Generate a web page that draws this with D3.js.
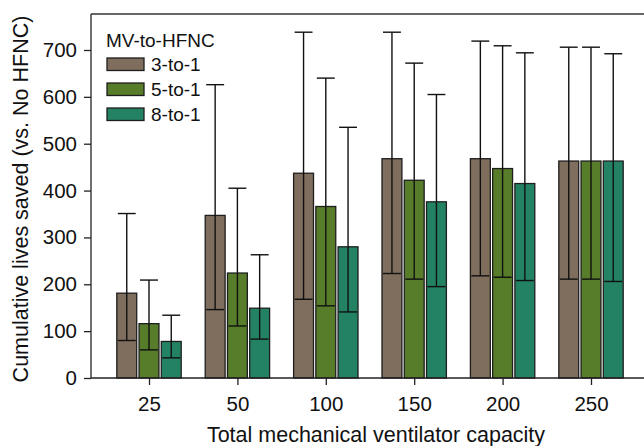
<!DOCTYPE html>
<html>
<head>
<meta charset="utf-8">
<script src="https://cdn.jsdelivr.net/npm/d3@7"></script>
<style>
  html, body { margin: 0; padding: 0; background: #fff; }
  svg { display: block; font-family: "Liberation Sans", Arial, Helvetica, sans-serif; }
</style>
</head>
<body>
<svg id="chart" width="644" height="446"></svg>
<script>
// ---- data ----
const categories = ["25", "50", "100", "150", "200", "250"];
const seriesNames = ["3-to-1", "5-to-1", "8-to-1"];
const seriesColors = ["#7f6e5d", "#577c2a", "#238263"];
// mean values per series (rows = series, columns = categories)
const mean3to1 = [181, 347, 437, 468, 468, 463];
const mean5to1 = [116, 224, 366, 422, 447, 463];
const mean8to1 = [78, 149, 280, 376, 415, 463];
// lower bounds
const low3to1 = [80, 146, 168, 223, 218, 211];
const low5to1 = [60, 111, 154, 211, 215, 211];
const low8to1 = [43, 83, 141, 195, 208, 206];
// upper bounds
const high3to1 = [351, 626, 738, 738, 719, 706];
const high5to1 = [209, 405, 640, 672, 709, 706];
const high8to1 = [134, 263, 535, 605, 694, 692];
const yTicks = [0, 100, 200, 300, 400, 500, 600, 700];

const means = [mean3to1, mean5to1, mean8to1];
const lows = [low3to1, low5to1, low8to1];
const highs = [high3to1, high5to1, high8to1];

const rows = [];
seriesNames.forEach((s, si) => {
  categories.forEach((c, ci) => {
    rows.push({ series: s, si, cat: c, mean: means[si][ci], low: lows[si][ci], high: highs[si][ci] });
  });
});

// ---- layout ----
const svg = d3.select("#chart");
const mLeft = 91, mTop = 14, mRight = 660, mBottom = 378;

const y = d3.scaleLinear().domain([0, 700]).range([mBottom, 50]);
const x = d3.scalePoint().domain(categories).range([149, 591]);
const xs = d3.scaleBand().domain(seriesNames).range([-32.2, 32.2]).paddingInner(0.105);
const bw = xs.bandwidth();

const tickFont = 20.5, legendFont = 19, titleFont = 21.5;

// frame line (top)
svg.append("line").attr("x1", mLeft).attr("x2", mRight).attr("y1", mTop).attr("y2", mTop)
  .attr("stroke", "#333").attr("stroke-width", 1.3);

// bars
const g = svg.append("g");
g.selectAll("rect.bar").data(rows).join("rect")
  .attr("class", "bar")
  .attr("x", d => x(d.cat) + xs(d.series))
  .attr("width", bw)
  .attr("y", d => y(d.mean))
  .attr("height", d => y(0) - y(d.mean))
  .attr("fill", d => seriesColors[d.si])
  .attr("stroke", "#1e1e1e")
  .attr("stroke-width", 1.3);

// error bars
const capW = bw - 2;
const eg = svg.append("g").attr("stroke", "#111").attr("stroke-width", 1.4);
rows.forEach(d => {
  const cx = x(d.cat) + xs(d.series) + bw / 2;
  eg.append("line").attr("x1", cx).attr("x2", cx).attr("y1", y(d.low)).attr("y2", y(d.high));
  eg.append("line").attr("x1", cx - capW / 2).attr("x2", cx + capW / 2).attr("y1", y(d.low)).attr("y2", y(d.low));
  eg.append("line").attr("x1", cx - capW / 2).attr("x2", cx + capW / 2).attr("y1", y(d.high)).attr("y2", y(d.high));
});

// y axis
const yAxis = svg.append("g").attr("transform", `translate(${mLeft},0)`)
  .call(d3.axisLeft(y).tickValues(yTicks).tickSize(7).tickSizeOuter(0).tickPadding(7));
yAxis.select(".domain").remove();
yAxis.append("line").attr("x1", 0).attr("x2", 0).attr("y1", mTop).attr("y2", mBottom)
  .attr("stroke", "#222").attr("stroke-width", 1.3);
yAxis.selectAll(".tick line").attr("stroke", "#222").attr("stroke-width", 1.3);
yAxis.selectAll(".tick text").attr("font-size", tickFont).attr("fill", "#111")
  .attr("font-family", "Liberation Sans, Arial, sans-serif");

// x axis
const xAxis = svg.append("g").attr("transform", `translate(0,${mBottom})`)
  .call(d3.axisBottom(x).tickSize(7).tickSizeOuter(0).tickPadding(11));
xAxis.select(".domain").remove();
xAxis.append("line").attr("x1", mLeft).attr("x2", mRight).attr("y1", 0).attr("y2", 0)
  .attr("stroke", "#222").attr("stroke-width", 1.3);
xAxis.selectAll(".tick line").attr("stroke", "#222").attr("stroke-width", 1.3);
xAxis.selectAll(".tick text").attr("font-size", tickFont).attr("fill", "#111")
  .attr("font-family", "Liberation Sans, Arial, sans-serif");

// axis titles
svg.append("text").attr("x", 376).attr("y", 442).attr("text-anchor", "middle")
  .attr("font-size", titleFont).attr("fill", "#111").text("Total mechanical ventilator capacity");
svg.append("text").attr("transform", "translate(28,199) rotate(-90)").attr("text-anchor", "middle")
  .attr("font-size", titleFont).attr("fill", "#111").text("Cumulative lives saved (vs. No HFNC)");

// legend
const lg = svg.append("g");
lg.append("text").attr("x", 106).attr("y", 47).attr("font-size", legendFont).attr("fill", "#111").text("MV-to-HFNC");
seriesNames.forEach((s, i) => {
  const yy = 58 + i * 25;
  lg.append("rect").attr("x", 107).attr("y", yy).attr("width", 37).attr("height", 12.5)
    .attr("fill", seriesColors[i]).attr("stroke", "#1e1e1e").attr("stroke-width", 1.3);
  lg.append("text").attr("x", 151).attr("y", yy + 13).attr("font-size", legendFont).attr("fill", "#111").text(s);
});
</script>
</body>
</html>
